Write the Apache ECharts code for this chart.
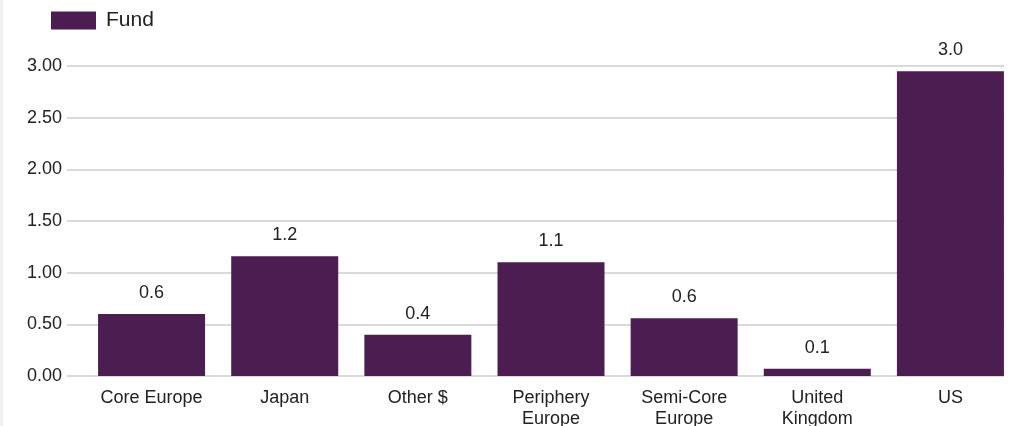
<!DOCTYPE html>
<html>
<head>
<meta charset="utf-8">
<script src="https://cdn.jsdelivr.net/npm/echarts@6/dist/echarts.min.js"></script>
<style>
  html, body { margin: 0; padding: 0; background: #fff; }
  #wrap { position: relative; width: 1016px; height: 426px; }
  #strip { position: absolute; left: 0; top: 0; width: 3px; height: 426px; background: #f0f0f0; }
  #chart { width: 1016px; height: 426px; }
</style>
</head>
<body>
<div id="wrap">
  <div id="chart"></div>
  <div id="strip"></div>
</div>
<script>
const categories = ['Core Europe', 'Japan', 'Other $', 'Periphery\nEurope', 'Semi-Core\nEurope', 'United\nKingdom', 'US'];
const fundValues = [0.60, 1.16, 0.40, 1.10, 0.56, 0.07, 2.95];
const yTicks = [0, 0.5, 1, 1.5, 2, 2.5, 3];

const font = 'Liberation Sans, Arial, sans-serif';
const barColor = '#4b1d50';

const chart = echarts.init(document.getElementById('chart'));
chart.setOption({
    animation: false,
    textStyle: { fontFamily: font },
    legend: {
        left: 51,
        top: 10,
        padding: 0,
        itemWidth: 45,
        itemHeight: 18,
        icon: 'rect',
        textStyle: { fontSize: 21, color: '#222', fontFamily: font, padding: [0, 0, 0, 5] },
        data: ['Fund']
    },
    grid: [
        { left: 67, right: 12, top: 66, bottom: 50, outerBoundsMode: 'none' },
        { left: 85, right: -1, top: 66, bottom: 50, outerBoundsMode: 'none' }
    ],
    xAxis: [
        { type: 'category', gridIndex: 0, data: categories, show: false },
        {
            type: 'category',
            gridIndex: 1,
            data: categories,
            axisLine: { show: false },
            axisTick: { show: false },
            axisLabel: { fontSize: 18, color: '#222', margin: 12, lineHeight: 21, interval: 0 }
        }
    ],
    yAxis: [
        {
            type: 'value',
            gridIndex: 0,
            min: yTicks[0],
            max: yTicks[yTicks.length - 1],
            interval: 0.5,
            axisLine: { show: false },
            axisTick: { show: false },
            axisLabel: { fontSize: 18, color: '#222', margin: 5, formatter: v => v.toFixed(2) },
            splitLine: { lineStyle: { color: '#dadada', width: 2 } }
        },
        {
            type: 'value',
            gridIndex: 1,
            min: yTicks[0],
            max: yTicks[yTicks.length - 1],
            interval: 0.5,
            show: false,
            splitLine: { show: false }
        }
    ],
    series: [
        {
            name: 'Fund',
            type: 'bar',
            xAxisIndex: 1,
            yAxisIndex: 1,
            data: fundValues,
            barWidth: 107,
            itemStyle: { color: barColor },
            label: {
                show: true,
                position: 'top',
                distance: 12,
                fontSize: 18,
                color: '#222',
                formatter: p => p.value.toFixed(1)
            }
        }
    ]
});
</script>
</body>
</html>
